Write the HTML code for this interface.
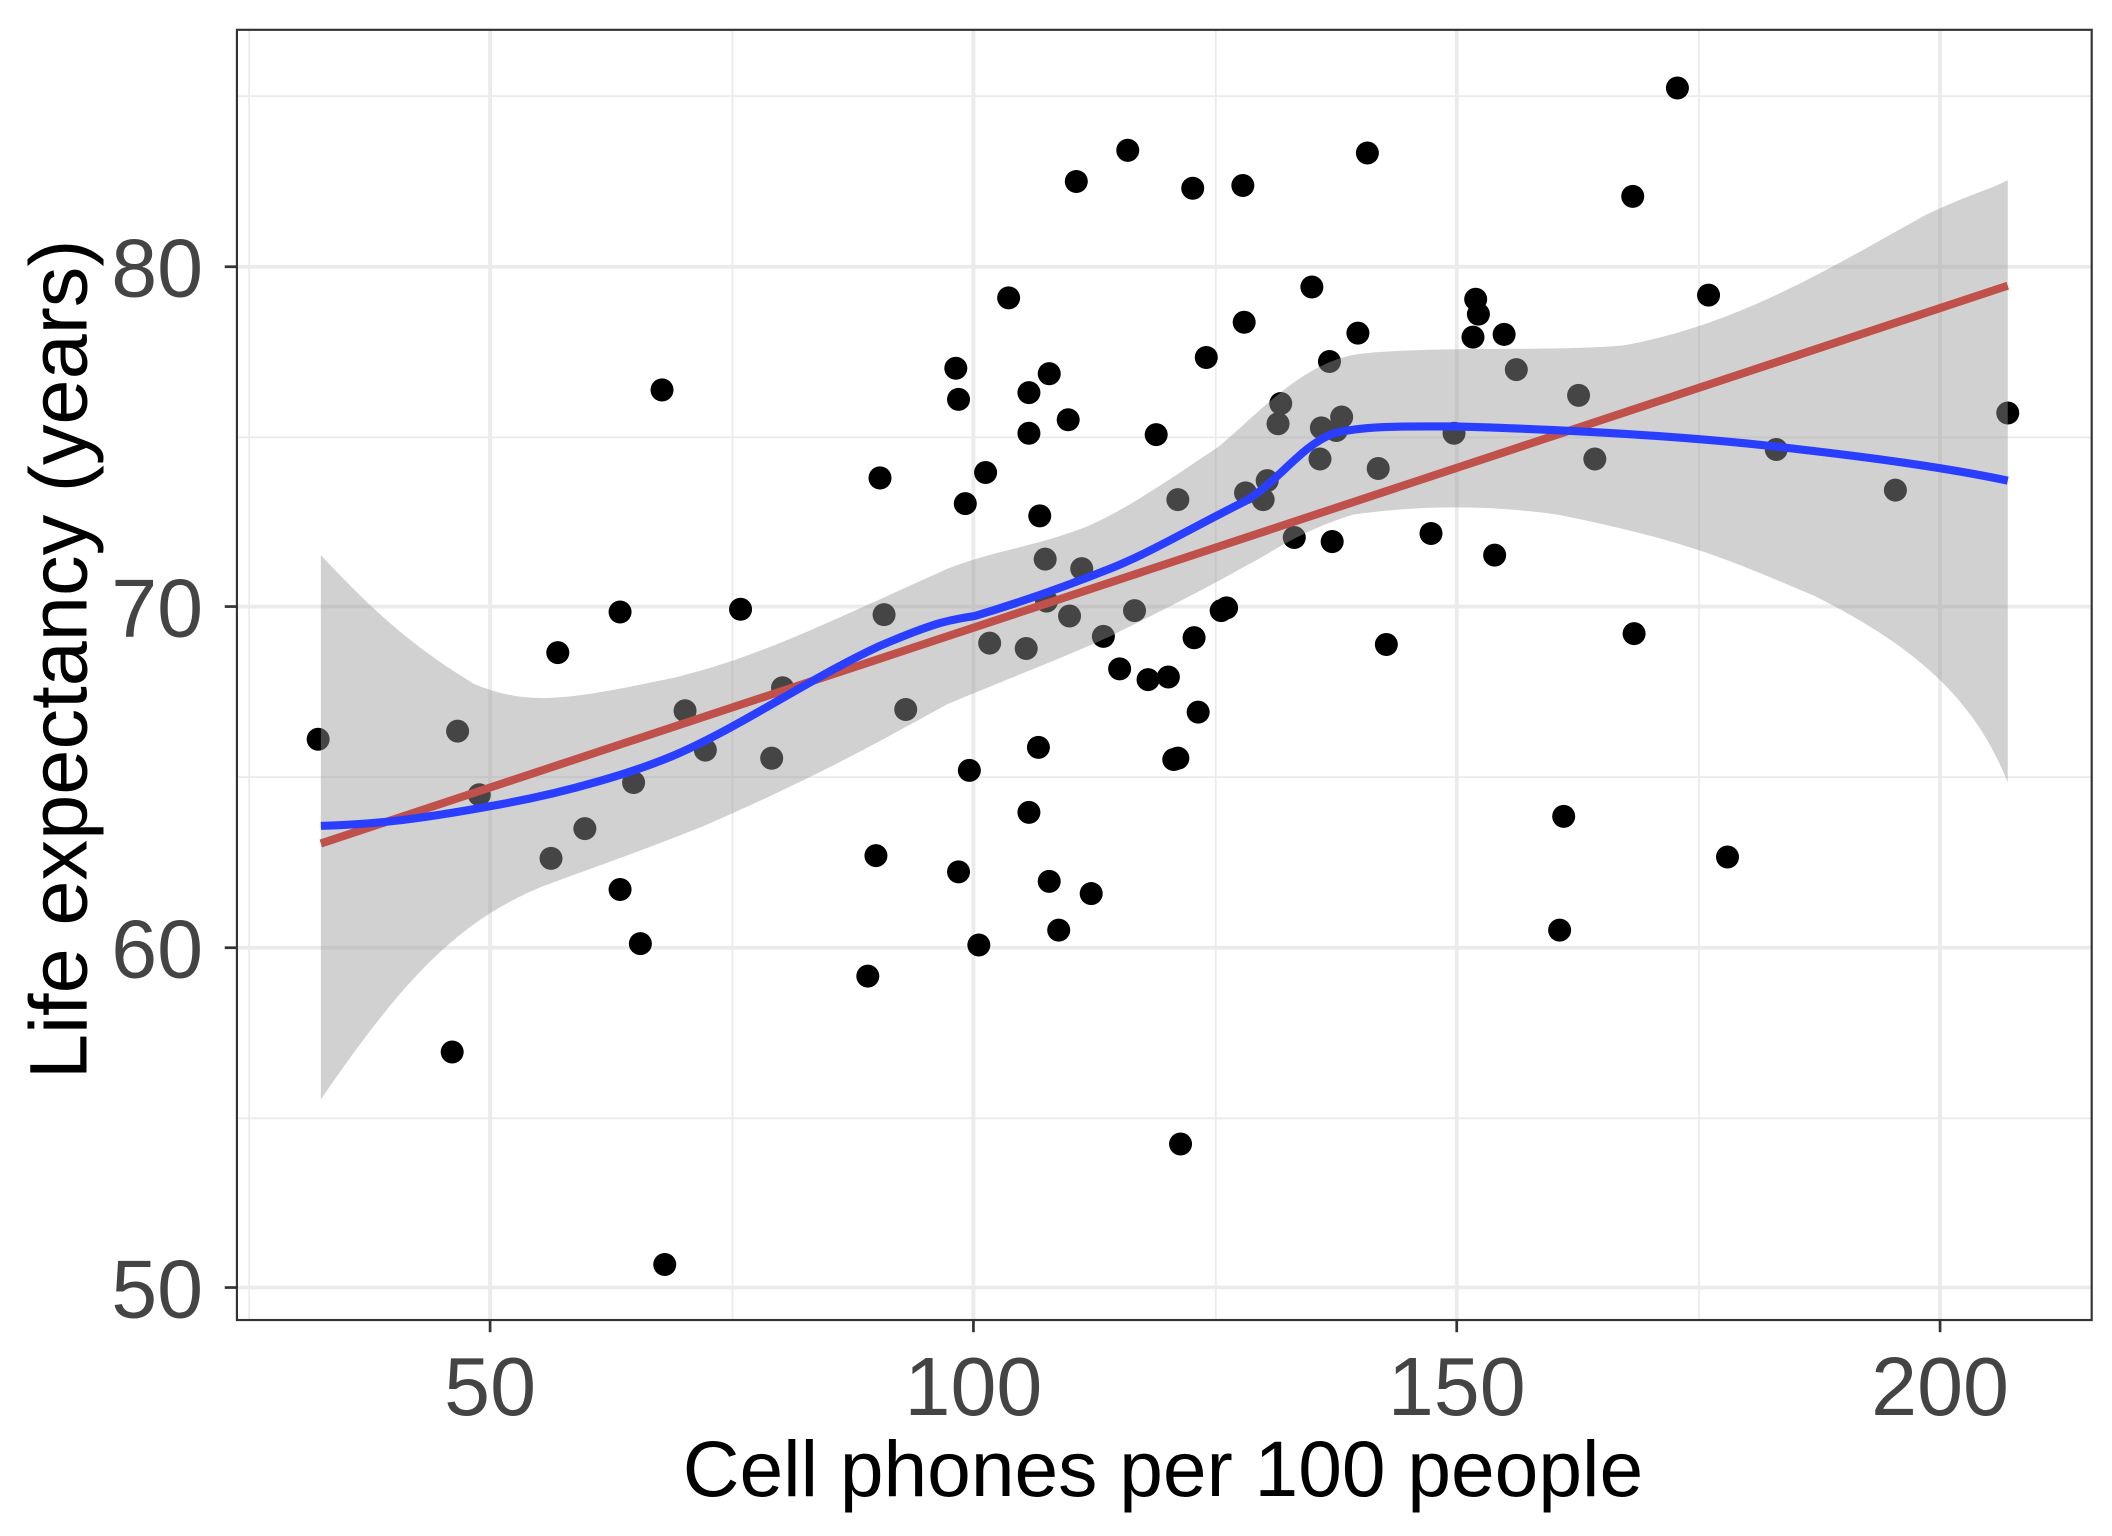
<!DOCTYPE html>
<html><head><meta charset="utf-8"><style>html,body{margin:0;padding:0;background:#fff}svg{display:block}</style></head>
<body>
<svg width="2112" height="1536" viewBox="0 0 1560 1134.5" xmlns="http://www.w3.org/2000/svg" font-family="Liberation Sans, sans-serif">
<rect x="0" y="0" width="1560" height="1135" fill="#fff"/>
<g stroke="#ebebeb" stroke-width="1.3">
<line x1="175" x2="1545" y1="71" y2="71"/><line x1="175" x2="1545" y1="323" y2="323"/><line x1="175" x2="1545" y1="574" y2="574"/><line x1="175" x2="1545" y1="826" y2="826"/>
<line x1="184" x2="184" y1="22" y2="975"/><line x1="541" x2="541" y1="22" y2="975"/><line x1="898" x2="898" y1="22" y2="975"/><line x1="1255" x2="1255" y1="22" y2="975"/>
</g>
<g stroke="#ebebeb" stroke-width="2.8">
<line x1="175" x2="1545" y1="197" y2="197"/><line x1="175" x2="1545" y1="448" y2="448"/><line x1="175" x2="1545" y1="700" y2="700"/><line x1="175" x2="1545" y1="951" y2="951"/>
<line x1="362" x2="362" y1="22" y2="975"/><line x1="719" x2="719" y1="22" y2="975"/><line x1="1076" x2="1076" y1="22" y2="975"/><line x1="1433" x2="1433" y1="22" y2="975"/>
</g>
<g fill="#000">
<circle cx="235" cy="546" r="8.5"/><circle cx="334" cy="777" r="8.5"/><circle cx="338" cy="540" r="8.5"/><circle cx="354" cy="587" r="8.5"/><circle cx="407" cy="634" r="8.5"/><circle cx="412" cy="482" r="8.5"/><circle cx="432" cy="612" r="8.5"/><circle cx="458" cy="452" r="8.5"/><circle cx="458" cy="657" r="8.5"/><circle cx="468" cy="578" r="8.5"/><circle cx="473" cy="697" r="8.5"/><circle cx="489" cy="288" r="8.5"/><circle cx="491" cy="934" r="8.5"/><circle cx="506" cy="525" r="8.5"/><circle cx="521" cy="554" r="8.5"/><circle cx="547" cy="450" r="8.5"/><circle cx="570" cy="560" r="8.5"/><circle cx="578" cy="508" r="8.5"/><circle cx="641" cy="721" r="8.5"/><circle cx="647" cy="632" r="8.5"/><circle cx="650" cy="353" r="8.5"/><circle cx="653" cy="454" r="8.5"/><circle cx="669" cy="524" r="8.5"/><circle cx="706" cy="272" r="8.5"/><circle cx="708" cy="295" r="8.5"/><circle cx="708" cy="644" r="8.5"/><circle cx="713" cy="372" r="8.5"/><circle cx="716" cy="569" r="8.5"/><circle cx="723" cy="698" r="8.5"/><circle cx="728" cy="349" r="8.5"/><circle cx="731" cy="475" r="8.5"/><circle cx="745" cy="220" r="8.5"/><circle cx="758" cy="479" r="8.5"/><circle cx="760" cy="600" r="8.5"/><circle cx="760" cy="290" r="8.5"/><circle cx="760" cy="320" r="8.5"/><circle cx="767" cy="552" r="8.5"/><circle cx="768" cy="381" r="8.5"/><circle cx="772" cy="413" r="8.5"/><circle cx="773" cy="444" r="8.5"/><circle cx="775" cy="651" r="8.5"/><circle cx="775" cy="276" r="8.5"/><circle cx="782" cy="687" r="8.5"/><circle cx="789" cy="310" r="8.5"/><circle cx="790" cy="455" r="8.5"/><circle cx="795" cy="134" r="8.5"/><circle cx="799" cy="420" r="8.5"/><circle cx="806" cy="660" r="8.5"/><circle cx="815" cy="470" r="8.5"/><circle cx="827" cy="494" r="8.5"/><circle cx="833" cy="111" r="8.5"/><circle cx="838" cy="451" r="8.5"/><circle cx="848" cy="502" r="8.5"/><circle cx="854" cy="321" r="8.5"/><circle cx="863" cy="500" r="8.5"/><circle cx="867" cy="561" r="8.5"/><circle cx="870" cy="369" r="8.5"/><circle cx="870" cy="560" r="8.5"/><circle cx="872" cy="845" r="8.5"/><circle cx="881" cy="139" r="8.5"/><circle cx="882" cy="471" r="8.5"/><circle cx="885" cy="526" r="8.5"/><circle cx="891" cy="264" r="8.5"/><circle cx="902" cy="451" r="8.5"/><circle cx="906" cy="449" r="8.5"/><circle cx="918" cy="137" r="8.5"/><circle cx="919" cy="238" r="8.5"/><circle cx="920" cy="364" r="8.5"/><circle cx="933" cy="369" r="8.5"/><circle cx="936" cy="355" r="8.5"/><circle cx="944" cy="313" r="8.5"/><circle cx="946" cy="298" r="8.5"/><circle cx="956" cy="397" r="8.5"/><circle cx="969" cy="212" r="8.5"/><circle cx="975" cy="339" r="8.5"/><circle cx="976" cy="316" r="8.5"/><circle cx="982" cy="267" r="8.5"/><circle cx="984" cy="400" r="8.5"/><circle cx="987" cy="318" r="8.5"/><circle cx="991" cy="308" r="8.5"/><circle cx="1003" cy="246" r="8.5"/><circle cx="1010" cy="113" r="8.5"/><circle cx="1018" cy="346" r="8.5"/><circle cx="1024" cy="476" r="8.5"/><circle cx="1057" cy="394" r="8.5"/><circle cx="1074" cy="320" r="8.5"/><circle cx="1088" cy="249" r="8.5"/><circle cx="1090" cy="221" r="8.5"/><circle cx="1092" cy="232" r="8.5"/><circle cx="1104" cy="410" r="8.5"/><circle cx="1111" cy="247" r="8.5"/><circle cx="1120" cy="273" r="8.5"/><circle cx="1152" cy="687" r="8.5"/><circle cx="1155" cy="603" r="8.5"/><circle cx="1166" cy="292" r="8.5"/><circle cx="1178" cy="339" r="8.5"/><circle cx="1206" cy="145" r="8.5"/><circle cx="1207" cy="468" r="8.5"/><circle cx="1239" cy="65" r="8.5"/><circle cx="1262" cy="218" r="8.5"/><circle cx="1276" cy="633" r="8.5"/><circle cx="1312" cy="332" r="8.5"/><circle cx="1400" cy="362" r="8.5"/><circle cx="1483" cy="305" r="8.5"/>
</g>
<path d="M237,410 C270,445 300,475 350,505 C390,522 420,517 500,500 C560,485 600,465 700,420 C740,405 760,405 800,390 C830,378 870,350 900,330 C930,305 960,270 1000,262 C1050,255 1150,260 1200,255 C1280,240 1340,205 1420,160 C1450,145 1470,140 1483,133 L1483,578 C1460,520 1420,480 1340,440 C1280,415 1250,400 1150,380 C1100,373 1050,373 1000,380 C960,392 940,408 920,418 C890,435 860,450 820,470 C780,488 760,495 700,520 C640,553 600,575 520,610 C470,630 440,640 400,655 C340,680 300,720 237,812 Z" fill="#999" fill-opacity="0.45"/>
<line x1="237" y1="623" x2="1483" y2="211" stroke="#c0504a" stroke-width="6"/>
<path d="M237,610 C270,609 300,607 370,594 C420,585 470,570 500,557 C550,535 600,500 650,477 C690,460 700,458 720,455 C760,443 790,432 820,420 C850,408 880,390 920,370 C945,355 960,330 985,320 C1010,314 1040,315 1075,315 C1150,317 1250,322 1330,332 C1400,340 1450,348 1483,355" fill="none" stroke="#2a3eff" stroke-width="6"/>
<rect x="175" y="22" width="1370" height="953" fill="none" stroke="#333" stroke-width="1.6"/>
<g stroke="#333" stroke-width="2">
<line x1="166" x2="175" y1="197" y2="197"/><line x1="166" x2="175" y1="448" y2="448"/><line x1="166" x2="175" y1="700" y2="700"/><line x1="166" x2="175" y1="951" y2="951"/>
<line x1="362" x2="362" y1="975" y2="984"/><line x1="719" x2="719" y1="975" y2="984"/><line x1="1076" x2="1076" y1="975" y2="984"/><line x1="1433" x2="1433" y1="975" y2="984"/>
</g>
<g fill="#444" font-size="61" text-anchor="end">
<text x="150" y="219">80</text><text x="150" y="470">70</text><text x="150" y="722">60</text><text x="150" y="973">50</text>
</g>
<g fill="#444" font-size="61" text-anchor="middle">
<text x="362" y="1045">50</text><text x="719" y="1045">100</text><text x="1076" y="1045">150</text><text x="1433" y="1045">200</text>
</g>
<text x="859" y="1105" font-size="58" text-anchor="middle" fill="#000">Cell phones per 100 people</text>
<text transform="translate(64,487) rotate(-90)" font-size="60" text-anchor="middle" fill="#000">Life expectancy (years)</text>
</svg>
</body></html>
